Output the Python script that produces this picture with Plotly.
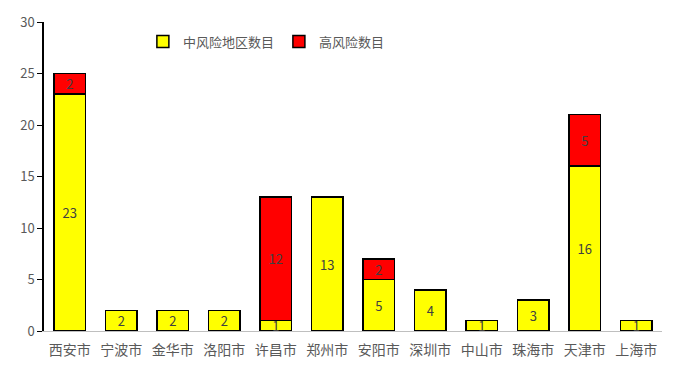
import plotly.graph_objects as go

cities = ["西安市", "宁波市", "金华市", "洛阳市", "许昌市", "郑州市", "安阳市", "深圳市", "中山市", "珠海市", "天津市", "上海市"]
medium = [23, 2, 2, 2, 1, 13, 5, 4, 1, 3, 16, 1]
high = [2, None, None, None, 12, None, 2, None, None, None, 5, None]
y_ticks = [0, 5, 10, 15, 20, 25, 30]

font_family = "Noto Sans CJK SC, Microsoft YaHei, sans-serif"

fig = go.Figure()
fig.add_trace(go.Bar(
    x=cities, y=medium, name="中风险地区数目",
    marker=dict(color="#FFFF00", line=dict(color="#000000", width=1.5)),
    text=[str(v) for v in medium], textposition="inside", insidetextanchor="middle",
    textangle=0,
    textfont=dict(color="#404040", size=13, family=font_family),
    constraintext="none",
))
fig.add_trace(go.Bar(
    x=cities, y=high, name="高风险数目",
    marker=dict(color="#FF0000", line=dict(color="#000000", width=1.5)),
    text=[str(v) if v else "" for v in high], textposition="inside", insidetextanchor="middle",
    textangle=0,
    textfont=dict(color="#404040", size=13, family=font_family),
    constraintext="none",
))

fig.update_layout(
    barmode="stack",
    bargap=0.38,
    width=677, height=379,
    margin=dict(l=44, r=15, t=20, b=48),
    paper_bgcolor="white", plot_bgcolor="white",
    font=dict(family=font_family, color="#595959", size=13),
    uniformtext=dict(minsize=8, mode="show"),
    legend=dict(orientation="h", x=0.16, y=0.985, xanchor="left", yanchor="top",
                font=dict(size=13, color="#595959"), bgcolor="rgba(0,0,0,0)",
                traceorder="normal", itemwidth=30),
    xaxis=dict(showline=True, linecolor="#BFBFBF", linewidth=1, ticks="",
               ticklabelstandoff=6,
               tickfont=dict(size=14, color="#595959"), showgrid=False),
    yaxis=dict(range=[0, 30], tickvals=y_ticks, showline=True, linecolor="#000000",
               linewidth=1.5, ticks="outside", ticklen=5, tickcolor="#000000",
               tickfont=dict(size=13, color="#595959"), showgrid=False, zeroline=False),
)

fig.write_html("out.html")
